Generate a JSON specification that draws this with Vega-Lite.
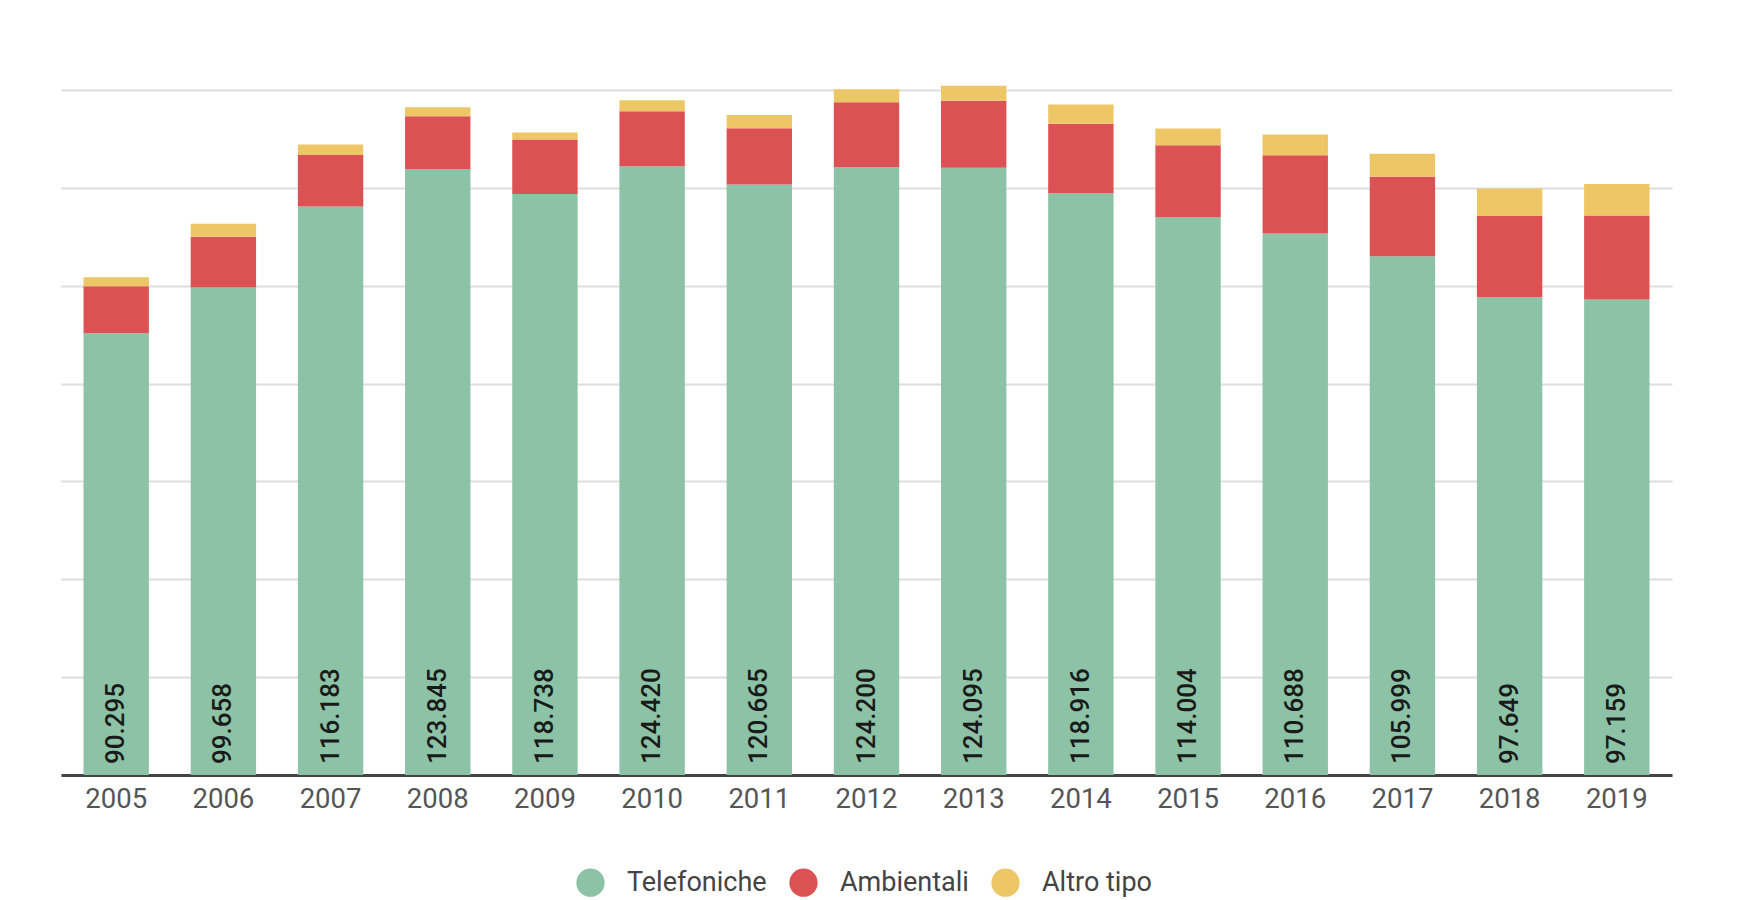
{
  "$schema": "https://vega.github.io/schema/vega-lite/v6.json",
  "width": 1611,
  "height": 685,
  "autosize": {"type": "none"},
  "padding": {"left": 61, "top": 90, "right": 78, "bottom": 125},
  "background": "white",
  "config": {
    "locale": {"number": {"decimal": ",", "thousands": ".", "grouping": [3], "currency": ["€", ""]}},
    "view": {"stroke": null},
    "font": "Roboto"
  },
  "data": {
    "values": [
      {"anno": "2005", "tipo": "Telefoniche", "ord": 1, "valore": 90295},
      {"anno": "2006", "tipo": "Telefoniche", "ord": 1, "valore": 99658},
      {"anno": "2007", "tipo": "Telefoniche", "ord": 1, "valore": 116183},
      {"anno": "2008", "tipo": "Telefoniche", "ord": 1, "valore": 123845},
      {"anno": "2009", "tipo": "Telefoniche", "ord": 1, "valore": 118738},
      {"anno": "2010", "tipo": "Telefoniche", "ord": 1, "valore": 124420},
      {"anno": "2011", "tipo": "Telefoniche", "ord": 1, "valore": 120665},
      {"anno": "2012", "tipo": "Telefoniche", "ord": 1, "valore": 124200},
      {"anno": "2013", "tipo": "Telefoniche", "ord": 1, "valore": 124095},
      {"anno": "2014", "tipo": "Telefoniche", "ord": 1, "valore": 118916},
      {"anno": "2015", "tipo": "Telefoniche", "ord": 1, "valore": 114004},
      {"anno": "2016", "tipo": "Telefoniche", "ord": 1, "valore": 110688},
      {"anno": "2017", "tipo": "Telefoniche", "ord": 1, "valore": 105999},
      {"anno": "2018", "tipo": "Telefoniche", "ord": 1, "valore": 97649},
      {"anno": "2019", "tipo": "Telefoniche", "ord": 1, "valore": 97159},
      {"anno": "2005", "tipo": "Ambientali", "ord": 2, "valore": 9600},
      {"anno": "2006", "tipo": "Ambientali", "ord": 2, "valore": 10340},
      {"anno": "2007", "tipo": "Ambientali", "ord": 2, "valore": 10550},
      {"anno": "2008", "tipo": "Ambientali", "ord": 2, "valore": 10770},
      {"anno": "2009", "tipo": "Ambientali", "ord": 2, "valore": 11160},
      {"anno": "2010", "tipo": "Ambientali", "ord": 2, "valore": 11240},
      {"anno": "2011", "tipo": "Ambientali", "ord": 2, "valore": 11510},
      {"anno": "2012", "tipo": "Ambientali", "ord": 2, "valore": 13290},
      {"anno": "2013", "tipo": "Ambientali", "ord": 2, "valore": 13690},
      {"anno": "2014", "tipo": "Ambientali", "ord": 2, "valore": 14180},
      {"anno": "2015", "tipo": "Ambientali", "ord": 2, "valore": 14720},
      {"anno": "2016", "tipo": "Ambientali", "ord": 2, "valore": 16000},
      {"anno": "2017", "tipo": "Ambientali", "ord": 2, "valore": 16290},
      {"anno": "2018", "tipo": "Ambientali", "ord": 2, "valore": 16620},
      {"anno": "2019", "tipo": "Ambientali", "ord": 2, "valore": 17170},
      {"anno": "2005", "tipo": "Altro tipo", "ord": 3, "valore": 1840},
      {"anno": "2006", "tipo": "Altro tipo", "ord": 3, "valore": 2660},
      {"anno": "2007", "tipo": "Altro tipo", "ord": 3, "valore": 2125},
      {"anno": "2008", "tipo": "Altro tipo", "ord": 3, "valore": 1840},
      {"anno": "2009", "tipo": "Altro tipo", "ord": 3, "valore": 1430},
      {"anno": "2010", "tipo": "Altro tipo", "ord": 3, "valore": 2250},
      {"anno": "2011", "tipo": "Altro tipo", "ord": 3, "valore": 2740},
      {"anno": "2012", "tipo": "Altro tipo", "ord": 3, "valore": 2660},
      {"anno": "2013", "tipo": "Altro tipo", "ord": 3, "valore": 3070},
      {"anno": "2014", "tipo": "Altro tipo", "ord": 3, "valore": 3950},
      {"anno": "2015", "tipo": "Altro tipo", "ord": 3, "valore": 3410},
      {"anno": "2016", "tipo": "Altro tipo", "ord": 3, "valore": 4230},
      {"anno": "2017", "tipo": "Altro tipo", "ord": 3, "valore": 4700},
      {"anno": "2018", "tipo": "Altro tipo", "ord": 3, "valore": 5580},
      {"anno": "2019", "tipo": "Altro tipo", "ord": 3, "valore": 6480}
    ]
  },
  "encoding": {
    "x": {
      "field": "anno",
      "type": "ordinal",
      "scale": {"paddingInner": 0.39, "paddingOuter": 0.21},
      "axis": {
        "title": null,
        "labelAngle": 0,
        "labelFontSize": 27.5,
        "labelColor": "#555555",
        "labelPadding": 10,
        "ticks": false,
        "domainColor": "#444444",
        "domainWidth": 3,
        "grid": false
      }
    }
  },
  "layer": [
    {
      "mark": {"type": "bar"},
      "encoding": {
        "y": {
          "field": "valore",
          "type": "quantitative",
          "stack": "zero",
          "scale": {"domain": [0, 140000], "nice": false},
          "axis": {
            "values": [0, 20000, 40000, 60000, 80000, 100000, 120000, 140000],
            "labels": false,
            "ticks": false,
            "domain": false,
            "title": null,
            "grid": true,
            "gridColor": "#dddddd",
            "gridWidth": 2
          }
        },
        "color": {
          "field": "tipo",
          "type": "nominal",
          "scale": {
            "domain": ["Telefoniche", "Ambientali", "Altro tipo"],
            "range": ["#8cc2a6", "#dc5254", "#edc765"]
          },
          "legend": {
            "title": null,
            "orient": "none",
            "direction": "horizontal",
            "legendX": 515,
            "legendY": 778,
            "symbolType": "circle",
            "symbolSize": 800,
            "symbolStrokeWidth": 0,
            "labelFontSize": 27,
            "labelColor": "#444444",
            "labelOffset": 22,
            "columnPadding": 22
          }
        },
        "order": {"field": "ord", "type": "quantitative"}
      }
    },
    {
      "transform": [{"filter": "datum.tipo === 'Telefoniche'"}],
      "mark": {
        "type": "text",
        "angle": 270,
        "align": "left",
        "baseline": "middle",
        "dx": 11,
        "fontSize": 26,
        "fontWeight": 500,
        "color": "#1a1a1a"
      },
      "encoding": {
        "y": {"datum": 0, "type": "quantitative"},
        "text": {"field": "valore", "type": "quantitative", "format": ",d"}
      }
    }
  ]
}
